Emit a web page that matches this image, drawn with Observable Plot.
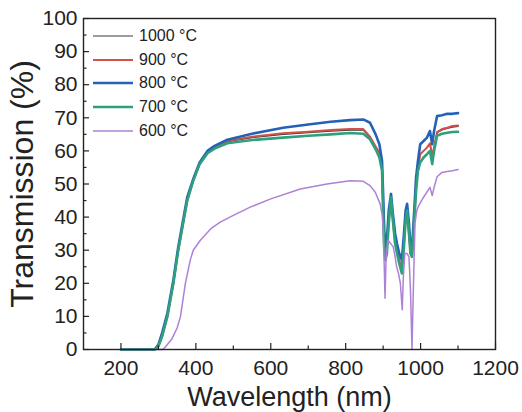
<!DOCTYPE html>
<html>
<head>
<meta charset="utf-8">
<script src="https://cdn.jsdelivr.net/npm/d3@7"></script>
<script src="https://cdn.jsdelivr.net/npm/@observablehq/plot@0.6"></script>
<style>
  html, body { margin: 0; padding: 0; background: #fff; }
  #wrap { position: relative; width: 522px; height: 412px; font-family: "Liberation Sans", Arial, sans-serif; }
  #legend { position: absolute; left: 93px; top: 24px; }
  .row { display: flex; align-items: center; height: 23.8px; }
  .row span { font-size: 16px; color: #222; margin-left: 6px; }
</style>
</head>
<body>
<div id="wrap"><div id="legend"></div></div>
<script>
const seriesNames = ["1000 °C", "900 °C", "800 °C", "700 °C", "600 °C"];
const seriesColors = ["#3a3a3a", "#d2504a", "#2462b8", "#2fa07c", "#ad82d6"];
const seriesWidths = [1.2, 2, 2.6, 2.6, 1.5];

const wlMain = [200,290,300,310,324,340,353,369,377,393,410,431,450,484,550,633,700,760,812,847,865,880,890,897,900,903,906,910,915,921,926,932,937,943,950,955,960,964,969,973,977,982,988,993,999,1008,1017,1025,1031,1036,1044,1057,1071,1085,1100];
const t1000 = [0,0,1,4,10,20,30,40,45,51,56,59.5,61,62.8,64,65,65.5,66,66.3,66.3,64,61,59.5,55,42,32,29,31,40,46,40,33,30,27,25,32,40,42,36,30,29,38,50,55,59,60,61,62,58.5,61,65.5,66.3,66.8,67.2,67.4];
const t900  = [0,0,1,4,10,20,30,40,45,51,56,59.5,61,63,64.3,65.3,65.8,66.3,66.6,66.6,64.3,61.3,59.5,55,42,31,28,30,39,45,39,32,30,27,24,31,39,41,35,29,28,37,49,55,59,60,61,62.3,58.5,61,65.7,66.6,67,67.5,67.7];
const t800  = [0,0,1.5,5,11,21,31,41,46,51.5,56.5,60,61.5,63.4,65.2,67,68,68.8,69.3,69.5,68.5,65,62,57,47,36,31,33,42,47,41,35,32,29,27,34,42,44,38,31,30,40,52,57,62,63,64,66,62,66,70.5,70.8,71.2,71.2,71.4];
const t700  = [0,0,1,4,10,20,30,40,45,51,56,59.3,60.7,62.3,63.3,64,64.6,65,65.4,65.2,63.5,60.5,58,54,41,30,27,29,38,46,39,32,29,26,23,30,39,42,35,29,28,37,48,54,56.5,58,59,60,56,60,64.6,65.2,65.5,65.7,65.8];
const wl600 = [200,312,320,335,350,359,372,385,393,412,440,465,500,545,600,679,750,812,847,865,879,892,897,900,903,905,908,913,920,927,932,936,941,946,951,954,958,964,969,973,977,980,985,990,995,1008,1025,1031,1036,1044,1057,1071,1085,1100];
const t600  = [0,0,1,3,6.5,10,20,27,30,33,36.5,38.5,40.5,43,45.5,48.5,50,51,50.8,49.5,47.5,44,41,37,25,15.5,28,33,32,31,28,25,23,20,12,22,29,29,28,18,0,15,38,42,43.5,46,49,46.5,49,52.2,53.5,53.8,54,54.4];

const xTicks = [200,400,600,800,1000,1200];
const xMinor = [300,500,700,900,1100];
const yTicks = [0,10,20,30,40,50,60,70,80,90,100];
const yMinor = [5,15,25,35,45,55,65,75,85,95];

const table = [];
const add = (name, wl, t) => wl.forEach((w, i) => table.push({series: name, wl: w, t: t[i]}));
add(seriesNames[0], wlMain, t1000);
add(seriesNames[1], wlMain, t900);
add(seriesNames[2], wlMain, t800);
add(seriesNames[3], wlMain, t700);
add(seriesNames[4], wl600, t600);

const lines = seriesNames.map((name, i) =>
  Plot.line(table.filter(d => d.series === name), {
    x: "wl", y: "t", stroke: seriesColors[i], strokeWidth: seriesWidths[i], curve: "linear"
  })
);

const chart = Plot.plot({
  width: 522,
  height: 412,
  marginLeft: 83,
  marginRight: 27,
  marginTop: 18,
  marginBottom: 63,
  style: { fontFamily: "Liberation Sans, Arial, sans-serif", color: "#222", background: "#fff" },
  x: { domain: [100, 1200] },
  y: { domain: [0, 100] },
  marks: [
    ...lines,
    Plot.frame({ stroke: "#222", strokeWidth: 1.4 }),
    Plot.axisX(xTicks, { tickSize: -6, text: null, label: null, strokeWidth: 1.2 }),
    Plot.axisX(xMinor, { tickSize: -3.5, text: null, label: null, strokeWidth: 1.2 }),
    Plot.axisX(xTicks, { tickSize: 0, tickPadding: 11, fontSize: 21, label: null, fill: "#222", tickFormat: d => String(d) }),
    Plot.axisY(yTicks, { tickSize: -6, text: null, label: null, strokeWidth: 1.2 }),
    Plot.axisY(yMinor, { tickSize: -3.5, text: null, label: null, strokeWidth: 1.2 }),
    Plot.axisY(yTicks, { tickSize: 0, tickPadding: 6, fontSize: 21, label: null, fill: "#222", tickFormat: d => String(d) }),
    Plot.text(["Wavelength (nm)"], { frameAnchor: "bottom", lineAnchor: "middle", textAnchor: "middle", dy: 48, fontSize: 27, fill: "#222" }),
    Plot.text(["Transmission (%)"], { frameAnchor: "left", textAnchor: "middle", lineAnchor: "middle", dx: -61, rotate: -90, fontSize: 32, fill: "#222" })
  ]
});

const wrap = document.getElementById("wrap");
wrap.insertBefore(chart, wrap.firstChild);

const legend = document.getElementById("legend");
seriesNames.forEach((name, i) => {
  const row = document.createElement("div");
  row.className = "row";
  row.innerHTML = `<svg width="40" height="6"><line x1="0" y1="3" x2="40" y2="3" stroke="${seriesColors[i]}" stroke-width="${seriesWidths[i]}"/></svg><span>${name}</span>`;
  legend.appendChild(row);
});
</script>
</body>
</html>
